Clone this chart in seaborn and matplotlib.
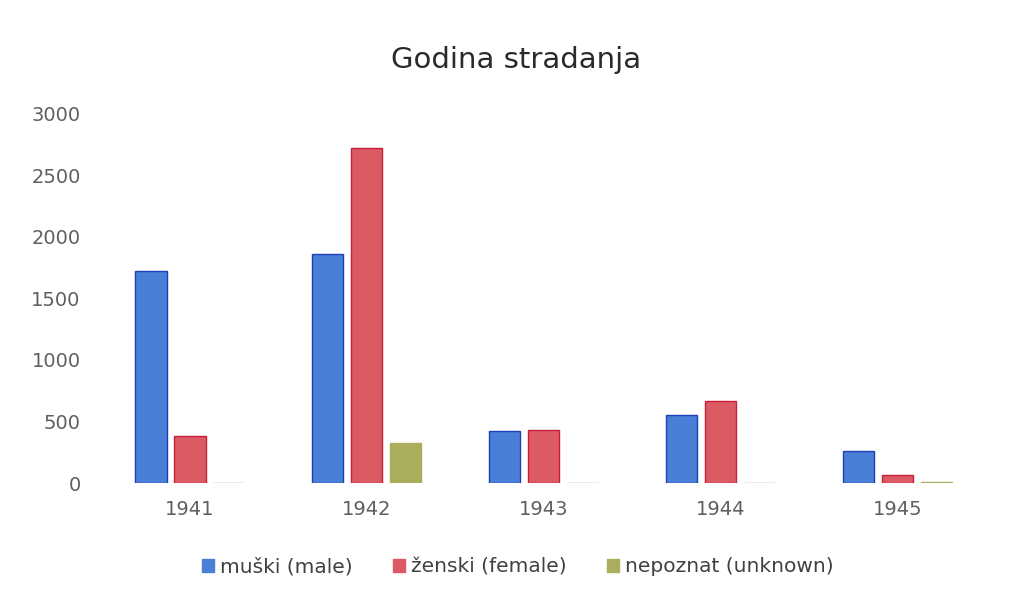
import pandas as pd
import seaborn as sns
import matplotlib.pyplot as plt
from matplotlib.patches import Patch

# data
years = ["1941", "1942", "1943", "1944", "1945"]
male = [1725, 1865, 425, 552, 262]
female = [385, 2725, 430, 670, 65]
unknown = [4, 323, 4, 4, 6]
series = ["muški (male)", "ženski (female)", "nepoznat (unknown)"]

fill_colors = ["#4a7fd8", "#dc5a64", "#a9ad5c"]
edge_colors = ["#1f3fb8", "#c81e3a", "#a9ad5c"]

df = pd.DataFrame({
    "year": years * 3,
    "count": male + female + unknown,
    "series": [series[0]] * 5 + [series[1]] * 5 + [series[2]] * 5,
})

sns.set_style("white")
plt.rcParams["font.family"] = ["DejaVu Sans"]

fig = plt.figure(figsize=(10.25, 6.03), dpi=100)
ax = fig.add_axes([0.099, 0.199, 0.863, 0.612])

sns.barplot(data=df, x="year", y="count", hue="series", palette=fill_colors,
            saturation=1, width=0.66, gap=0.2, ax=ax, legend=False)

# darker outline per series
for i, cont in enumerate(ax.containers):
    for bar in cont:
        bar.set_edgecolor(edge_colors[i])
        bar.set_linewidth(1.0)

ax.set_ylim(0, 3000)
ax.set_yticks(range(0, 3001, 500))
ax.set_xlim(-0.5, 4.5)
ax.set_xlabel("")
ax.set_ylabel("")
sns.despine(ax=ax, left=True, bottom=True)
ax.tick_params(axis="both", length=0, labelsize=14, colors="#5f5f5f")
ax.tick_params(axis="y", pad=15)
ax.tick_params(axis="x", pad=12)

fig.text(0.503, 0.9, "Godina stradanja", ha="center", va="center",
         fontsize=21, color="#2a2a2a")

handles = [Patch(facecolor=fill_colors[i], edgecolor=fill_colors[i], label=series[i])
           for i in range(3)]
fig.legend(handles=handles, loc="center", bbox_to_anchor=(0.505, 0.06), ncol=3,
           frameon=False, fontsize=14.5, handlelength=0.6, handleheight=0.6,
           handletextpad=0.3, columnspacing=2.0, labelcolor="#404040")

fig.savefig("out.png", dpi=100, facecolor="white")
